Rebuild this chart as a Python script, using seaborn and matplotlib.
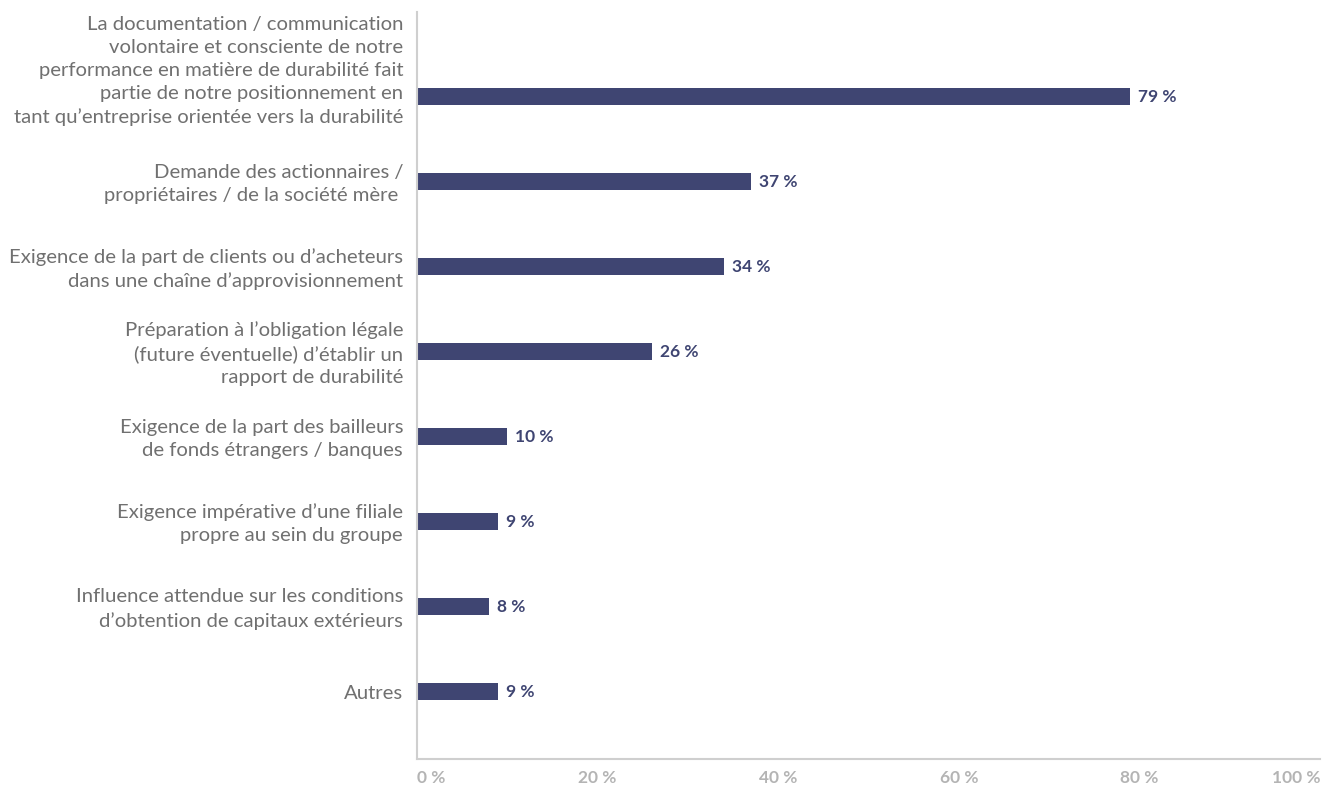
import matplotlib
matplotlib.use("Agg")
import matplotlib.pyplot as plt
import seaborn as sns
import pandas as pd

categories = [
    "La documentation / communication\nvolontaire et consciente de notre\nperformance en matière de durabilité fait\npartie de notre positionnement en\ntant qu’entreprise orientée vers la durabilité",
    "Demande des actionnaires /\npropriétaires / de la société mère ",
    "Exigence de la part de clients ou d’acheteurs\ndans une chaîne d’approvisionnement",
    "Préparation à l’obligation légale\n(future éventuelle) d’établir un\nrapport de durabilité",
    "Exigence de la part des bailleurs\nde fonds étrangers / banques",
    "Exigence impérative d’une filiale\npropre au sein du groupe",
    "Influence attendue sur les conditions\nd’obtention de capitaux extérieurs",
    "Autres",
]
values = [79, 37, 34, 26, 10, 9, 8, 9]
x_ticks = [0, 20, 40, 60, 80, 100]
x_tick_labels = ["0 %", "20 %", "40 %", "60 %", "80 %", "100 %"]

bar_color = "#3f4572"
label_color = "#707070"
tick_color = "#b4b4b4"
axis_color = "#cfcfcf"

sns.set_theme(style="white")
plt.rcParams["font.family"] = ["Lato", "DejaVu Sans"]

df = pd.DataFrame({"cat": categories, "val": values})

fig = plt.figure(figsize=(13.23, 7.85), dpi=100)
ax = fig.add_axes([417 / 1323, 1 - 759 / 785, (1320 - 417) / 1323, (759 - 12) / 785])

sns.barplot(data=df, x="val", y="cat", orient="h", color=bar_color,
            width=0.2, saturation=1, ax=ax, edgecolor="none")

ax.set_xlim(0, 100)
ax.set_ylim(7.79, -1.0)
ax.set_xlabel("")
ax.set_ylabel("")

# value labels at the end of each bar
for i, v in enumerate(values):
    ax.text(v + 0.9, i, f"{v} %", va="center", ha="left",
            fontsize=12.5, fontweight="bold", color=bar_color)

# category labels, right-aligned against the axis; the long first label
# sits a little higher so its fourth line lines up with the bar
ax.set_yticks(range(len(categories)))
ax.set_yticklabels([])
for i, cat in enumerate(categories):
    dy = 18.5 if i == 0 else -1.5
    ax.annotate(cat, xy=(0, i), xycoords=("axes fraction", "data"),
                xytext=(-10, dy), textcoords="offset points",
                ha="right", va="center", multialignment="right",
                fontsize=14.6, color=label_color, linespacing=1.42)

ax.set_xticks(x_ticks)
ax.set_xticklabels(x_tick_labels, fontsize=12.5, fontweight="bold", color=tick_color)
xt = ax.get_xticklabels()
xt[0].set_ha("left")
xt[-1].set_ha("right")

ax.tick_params(axis="both", length=0)
ax.tick_params(axis="x", pad=8)

for side in ["top", "right"]:
    ax.spines[side].set_visible(False)
ax.spines["left"].set_color(axis_color)
ax.spines["bottom"].set_color(axis_color)
ax.spines["left"].set_linewidth(1.5)
ax.spines["bottom"].set_linewidth(1.5)

fig.savefig("out.png", dpi=100)
